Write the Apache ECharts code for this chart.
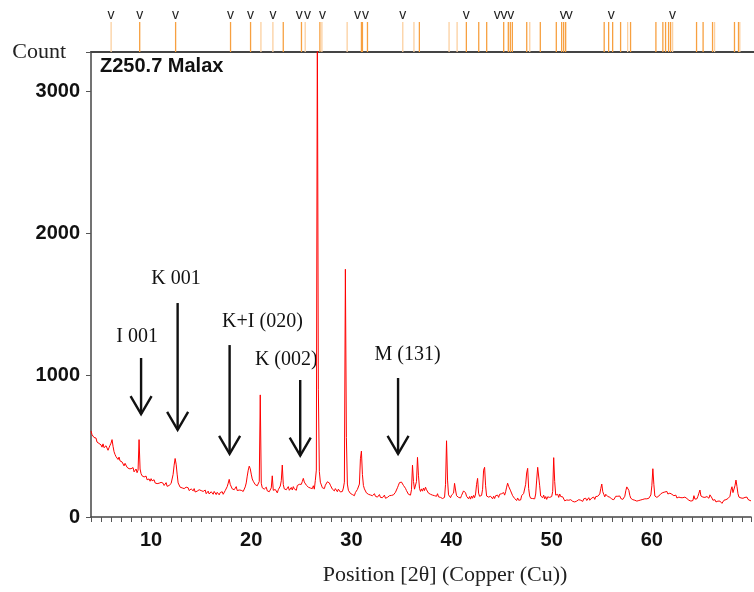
<!DOCTYPE html>
<html>
<head>
<meta charset="utf-8">
<script src="https://cdn.jsdelivr.net/npm/echarts@6/dist/echarts.min.js"></script>
<style>
  html, body { margin: 0; padding: 0; background: #ffffff; }
  #chart { width: 754px; height: 592px; }
</style>
</head>
<body>
<div id="chart"></div>
<script>
// Sample and axis titles
const sampleName = 'Z250.7 Malax';
const xAxisTitle = 'Position [2θ] (Copper (Cu))';
const yAxisTitle = 'Count';

// Scan step (°2θ); counts are listed one row per degree, starting at each block's first angle
const scanStep = 0.1;

const countsLowStart = 4.0;
const countsLow = [
  606, 580, 592, 560, 548, 556, 528, 540, 518, 530,   // 4
  508, 492, 515, 488, 478, 502, 495, 470, 488, 505,   // 5
  520, 545, 498, 460, 440, 425, 432, 405, 422, 395,   // 6
  405, 388, 392, 360, 378, 368, 350, 362, 340, 352,   // 7
  340, 332, 348, 318, 325, 338, 312, 330, 545, 338,   // 8
  305, 290, 296, 282, 270, 288, 262, 276, 268, 252,   // 9
  270, 255, 248, 262, 240, 252, 235, 246, 238, 226,   // 10
  244, 230, 238, 222, 228, 242, 216, 230, 222, 214,   // 11
  236, 250, 300, 365, 412, 372, 302, 240, 226, 210,   // 12
  222, 205, 214, 200, 192, 210, 198, 206, 186, 200,   // 13
  198, 188, 184, 200, 176, 190, 182, 172, 192, 178,   // 14
  186, 172, 180, 168, 190, 164, 176, 182, 162, 174,   // 15
  178, 166, 160, 180, 170, 158, 174, 164, 156, 172,   // 16
  168, 178, 160, 174, 186, 196, 214, 238, 265, 230,   // 17
  216, 198, 210, 192, 204, 214, 186, 200, 190, 196,   // 18
  188, 196, 180, 192, 212, 240, 288, 330, 358, 340,   // 19
  302, 268, 252, 242, 228, 234, 220, 232, 250, 860    // 20
];

const countsMidStart = 21.0;
const countsMid = [
  238, 206, 220, 196, 192, 210, 184, 198, 178, 190,   // 21
  205, 290, 188, 176, 194, 182, 170, 192, 184, 218,   // 22
  256, 366, 228, 198, 212, 192, 206, 214, 188, 200,   // 23
  208, 190, 214, 198, 206, 188, 222, 212, 230, 240,   // 24
  230, 250, 272, 246, 238, 224, 216, 210, 222, 204,   // 25
  214, 200, 220, 196, 258, 330, 3520, 900, 320, 245,  // 26
  226, 206, 218, 200, 224, 232, 248, 262, 240, 224,   // 27
  212, 196, 206, 184, 200, 192, 178, 196, 184, 176,   // 28
  190, 180, 204, 245, 1745, 560, 232, 188, 178, 166,  // 29
  176, 158, 168, 150, 172, 176, 194, 182, 232, 410,   // 30
  464, 300, 222, 198, 184, 170, 178, 160, 172, 155,   // 31
  168, 150, 158, 164, 146, 156, 140, 152, 158, 138,   // 32
  150, 136, 142, 154, 132, 146, 138, 128, 150, 136,   // 33
  152, 140, 156, 150, 174, 188, 206, 224, 242, 250,   // 34
  246, 232, 222, 208, 202, 186, 174, 160, 170, 154,   // 35
  192, 365, 250, 196, 188, 250, 420, 290, 202, 180    // 36
];

const countsHighStart = 37.0;
const countsHigh = [
  198, 182, 204, 186, 210, 192, 184, 168, 178, 160,   // 37
  170, 154, 166, 150, 162, 146, 164, 142, 150, 138,   // 38
  148, 130, 144, 138, 230, 537, 260, 156, 150, 136,   // 39
  154, 140, 168, 237, 190, 150, 148, 138, 152, 134,   // 40
  152, 160, 184, 195, 170, 146, 140, 128, 144, 126,   // 41
  148, 132, 152, 136, 162, 230, 272, 168, 146, 132,   // 42
  152, 195, 330, 350, 220, 148, 142, 140, 138, 146,   // 43
  138, 128, 146, 130, 150, 136, 154, 138, 160, 146,   // 44
  164, 150, 172, 154, 178, 210, 238, 216, 222, 184,   // 45
  172, 150, 144, 130, 128, 116, 134, 118, 130, 120,   // 46
  150, 138, 166, 178, 230, 310, 343, 200, 148, 132,   // 47
  136, 130, 140, 128, 162, 260, 350, 358, 220, 148,   // 48
  150, 136, 154, 128, 144, 124, 142, 130, 138, 126,   // 49
  144, 180, 418, 250, 154, 142, 160, 138, 162, 144,   // 50
  158, 142, 132, 114, 110, 120, 106, 118, 114, 122,   // 51
  116, 110, 124, 106, 118, 112, 108, 122, 114, 118,   // 52
  124, 110, 128, 114, 132, 116, 126, 136, 118, 128,   // 53
  134, 120, 140, 124, 144, 130, 146, 132, 162, 200,   // 54
  232, 178, 160, 142, 160, 146, 144, 148, 140, 126,   // 55
  126, 124, 122, 132, 146, 148, 146, 152, 148, 130,   // 56
  136, 124, 132, 146, 185, 212, 218, 188, 152, 132,   // 57
  134, 122, 124, 118, 126, 112, 120, 116, 122, 120,   // 58
  126, 124, 130, 128, 132, 128, 136, 132, 144, 155,   // 59
  220, 340, 230, 148, 134, 138, 146, 148, 162, 164,   // 60
  162, 172, 158, 176, 166, 180, 162, 174, 168, 154,   // 61
  160, 146, 150, 142, 154, 134, 148, 140, 138, 136,   // 62
  140, 136, 130, 140, 126, 130, 124, 118, 130, 112,   // 63
  122, 116, 150, 126, 124, 128, 146, 168, 190, 148,   // 64
  144, 140, 134, 138, 132, 144, 150, 132, 156, 150,   // 65
  134, 118, 116, 122, 106, 118, 112, 100, 112, 104,   // 66
  96, 104, 118, 106, 122, 116, 130, 126, 146, 190,    // 67
  213, 172, 167, 220, 260, 215, 164, 140, 134, 134,   // 68
  128, 132, 122, 138, 130, 140, 124, 132, 116, 114    // 69
];

// Reference pattern stick positions (2θ): strong and faint entries
const refPeaksStrong = [8.84, 12.41, 17.87, 19.86, 23.11, 24.92, 26.75, 30.88, 30.98, 31.48, 36.64, 41.31, 42.54, 43.33,
  45.02, 45.48, 45.68, 45.88, 47.31, 48.66, 50.25, 50.78, 50.98, 51.18, 55.01, 55.45, 55.85, 56.64, 57.63,
  60.15, 60.84, 61.11, 61.41, 61.61, 64.19, 64.84, 65.78, 67.96, 68.36];
const refPeaksFaint = [6.00, 20.89, 22.08, 25.29, 26.95, 29.46, 34.99, 36.10, 39.59, 40.39, 47.61, 57.34, 61.81, 65.98, 68.49];
// Matched-peak markers above the sticks (2θ)
const refMarks = [6.00, 8.84, 12.41, 17.87, 19.86, 22.08, 24.70, 25.52, 27.01, 30.48, 31.28, 34.99, 41.31,
  44.39, 45.05, 45.72, 50.94, 51.54, 55.71, 61.81];

// Reflection annotations: label, label anchor [2θ, counts], arrow 2θ, arrow start and tip (counts)
const annotationLabels = ['I 001', 'K 001', 'K+I (020)', 'K (002)', 'M (131)'];
const annotationAnchors = [[8.61, 1268], [12.48, 1676], [21.12, 1373], [23.50, 1106], [35.61, 1141]];
const arrowAngles = [9.0, 12.65, 17.84, 24.89, 34.66];
const arrowStarts = [1120, 1507, 1211, 965, 979];
const arrowTips = [725, 613, 444, 432, 444];

const xTicks = [10, 20, 30, 40, 50, 60];
const yTicks = [0, 1000, 2000, 3000];

// Pair each count with its scan angle
function toPoints(start, counts) {
  return counts.map((c, i) => [Math.round((start + i * scanStep) * 100) / 100, c]);
}
const scan = toPoints(countsLowStart, countsLow)
  .concat(toPoints(countsMidStart, countsMid), toPoints(countsHighStart, countsHigh));
const sticks = refPeaksStrong.map(v => [v, 1]).concat(refPeaksFaint.map(v => [v, 0]));
const arrows = arrowAngles.map((a, i) => [a, arrowStarts[i], arrowTips[i], annotationAnchors[i][0], annotationAnchors[i][1], i]);

const sans = 'Liberation Sans';
const serif = 'Liberation Serif';
const chart = echarts.init(document.getElementById('chart'), null, { renderer: 'canvas' });

chart.setOption({
  animation: false,
  backgroundColor: '#ffffff',
  title: {
    text: sampleName,
    left: 95,
    top: 51,
    textStyle: { fontFamily: sans, fontSize: 20, fontWeight: 'bold', color: '#111' }
  },
  grid: [
    { left: 91, right: 0, top: 52, bottom: 75 },
    { left: 91, right: 0, top: 22, height: 30 }
  ],
  xAxis: [
    {
      type: 'value', gridIndex: 0, min: 4, max: 69.9, interval: 1,
      axisLine: { show: true, lineStyle: { color: '#444', width: 1.5 } },
      axisTick: { show: true, length: 5, lineStyle: { color: '#555', width: 1 } },
      splitLine: { show: false },
      axisLabel: {
        formatter: v => (xTicks.indexOf(v) >= 0 ? String(v) : ''),
        fontFamily: sans, fontSize: 20, fontWeight: 'bold', color: '#111', margin: 13
      },
      name: xAxisTitle, nameLocation: 'middle', nameGap: 47,
      nameTextStyle: { fontFamily: serif, fontSize: 22, color: '#222', padding: [0, 0, 0, 48] }
    },
    {
      type: 'value', gridIndex: 1, min: 4, max: 69.9,
      axisLine: { show: true, lineStyle: { color: '#444', width: 2 } },
      axisTick: { show: false }, axisLabel: { show: false }, splitLine: { show: false }
    }
  ],
  yAxis: [
    {
      type: 'value', gridIndex: 0, min: 0, max: 3275, interval: 1000,
      axisLine: { show: true, lineStyle: { color: '#444', width: 1.5 } },
      axisTick: { show: true, length: 5, lineStyle: { color: '#555', width: 1 } },
      splitLine: { show: false },
      axisLabel: {
        formatter: v => (yTicks.indexOf(v) >= 0 ? String(v) : ''),
        fontFamily: sans, fontSize: 20, fontWeight: 'bold', color: '#111', margin: 11
      },
      name: yAxisTitle, nameLocation: 'end', nameGap: 0,
      nameTextStyle: { fontFamily: serif, fontSize: 22, color: '#222', align: 'right', verticalAlign: 'middle', padding: [0, 25, 0, 0] }
    },
    { type: 'value', gridIndex: 1, min: 0, max: 1, show: false }
  ],
  series: [
    {
      name: 'scan', type: 'line', xAxisIndex: 0, yAxisIndex: 0,
      data: scan, showSymbol: false, symbol: 'none', clip: true,
      lineStyle: { color: '#ff0000', width: 1 }
    },
    {
      name: 'reference sticks', type: 'custom', xAxisIndex: 1, yAxisIndex: 1,
      data: sticks,
      renderItem: (params, api) => {
        const x = api.value(0);
        const p0 = api.coord([x, 0]);
        const p1 = api.coord([x, 1]);
        return {
          type: 'line',
          shape: { x1: p0[0], y1: p0[1], x2: p1[0], y2: p1[1] },
          style: { stroke: api.value(1) ? '#f7a040' : '#fcd0a0', lineWidth: 1.3 }
        };
      }
    },
    {
      name: 'matched marks', type: 'custom', xAxisIndex: 1, yAxisIndex: 1,
      data: refMarks.map(v => [v, 1]),
      renderItem: (params, api) => {
        const p = api.coord([api.value(0), 1]);
        return {
          type: 'text',
          x: p[0], y: p[1] - 7,
          style: { text: 'v', fontFamily: sans, fontSize: 14, fill: '#222', align: 'center', verticalAlign: 'middle' }
        };
      }
    },
    {
      name: 'reflections', type: 'custom', xAxisIndex: 0, yAxisIndex: 0,
      data: arrows,
      renderItem: (params, api) => {
        const top = api.coord([api.value(0), api.value(1)]);
        const tip = api.coord([api.value(0), api.value(2)]);
        const lab = api.coord([api.value(3), api.value(4)]);
        const stroke = { stroke: '#111', lineWidth: 2.4, fill: null };
        return {
          type: 'group',
          children: [
            { type: 'line', shape: { x1: top[0], y1: top[1], x2: tip[0], y2: tip[1] }, style: stroke },
            { type: 'polyline', shape: { points: [[tip[0] - 10.5, tip[1] - 18], [tip[0], tip[1]], [tip[0] + 10.5, tip[1] - 18]] }, style: stroke },
            { type: 'text', x: lab[0], y: lab[1],
              style: { text: annotationLabels[api.value(5)], fontFamily: serif, fontSize: 20, fill: '#111', align: 'center', verticalAlign: 'middle' } }
          ]
        };
      }
    }
  ]
});
</script>
</body>
</html>
